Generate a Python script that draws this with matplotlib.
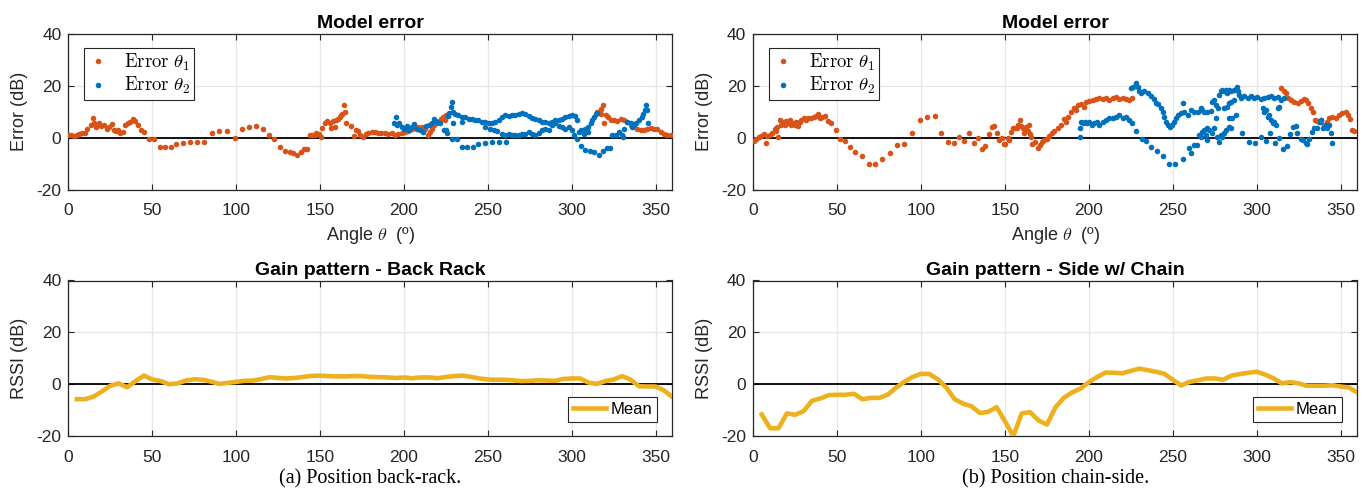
import matplotlib
matplotlib.use("Agg")
import matplotlib.pyplot as plt
import numpy as np

# ---------------- data ----------------
# (a) back-rack, model error theta1 (angle, error)
a_t1_ang = [0, 1.4, 3.4, 4.9, 6.3, 8.3, 9.7, 11.3, 13.3, 14.9, 15.3, 16.7, 18.3, 19.7, 21.3, 22.9, 24.3, 25.7, 26.9, 28.3,
            29.7, 30.9, 32.3, 33.7, 35.3, 36.9, 38.3, 39.7, 41.3, 43.3, 45.3, 48.3, 50.9, 54.3, 57.3, 60.9, 64.2, 68.2,
            72.4, 76.6, 80.8, 85.8, 89.9, 94.6, 99.0, 103.6, 107.8, 112.0, 115.9, 119.3, 122.6, 126.0, 128.9, 131.9,
            133.9, 136.2, 138.5, 140.4, 142.2, 143.8, 145.2, 146.8, 147.7, 149.2, 150.4, 151.4, 152.8, 154.4, 155.7,
            156.8, 157.7, 158.7, 159.7, 160.7, 161.7, 162.7, 163.3, 164.1, 164.7, 165.3, 168.7, 170.1, 171.6, 172.6,
            174.0, 175.7, 177.1, 178.7, 180.7, 182.6, 184.7, 186.6, 188.6, 190.6, 192.6, 194.6, 196.6, 198.6, 200.6,
            202.6, 204.6, 206.6, 208.6, 210.6, 212.5, 214.5, 215.5, 216.5, 218.1, 219.5, 220.9, 222.1, 223.5, 224.5,
            225.3, 315.2, 317.2, 318.6, 317.2, 319.2, 320.2, 321.8, 323.2, 325.2, 327.2, 329.2, 331.1, 333.1, 335.1,
            337.1, 339.1, 341.1, 343.1, 345.1, 347.1, 349.1, 351.1, 353.0, 355.0, 357.0, 359.0]
a_t1_err = [1.1, 0.9, 0.6, 0.9, 1.5, 1.8, 1.9, 3.2, 4.7, 7.6, 5.4, 4.1, 5.4, 4.3, 4.7, 3.2, 4.1, 5.1, 2.8, 2.5,
            2.8, 1.8, 2.2, 4.7, 5.4, 6.0, 7.0, 6.4, 4.7, 2.8, 2.2, -0.4, -0.4, -3.6, -3.6, -3.6, -2.5, -2.3,
            -1.9, -1.9, -1.9, 1.9, 2.5, 2.5, -0.1, 3.2, 4.1, 4.5, 3.3, 1.1, -0.4, -3.6, -5.2, -5.6,
            -5.9, -6.9, -5.4, -4.3, -4.5, 0.9, 0.8, 0.9, 1.8, 1.5, 0.3, 3.7, 5.4, 6.4, 5.4,
            3.8, 6.2, 4.1, 6.6, 7.0, 7.9, 8.5, 9.2, 12.6, 9.8, 5.4, 4.5, 0.6, 2.8, 2.4,
            0.9, 0.3, 1.3, 1.8, 2.0, 2.2, 1.9, 1.8, 1.8, 1.5, 1.8, 0.9, 1.5, 1.9, 2.2,
            2.5, 3.1, 3.7, 4.1, 4.1, 3.4, 0.9, 2.2, 3.4, 4.7, 5.6, 6.4, 7.3, 7.9, 6.9,
            8.5, 9.8, 11.1, 12.4, 9.2, 5.6, 8.5, 7.9, 6.6, 6.9, 6.4, 7.3, 6.6, 6.0, 4.7,
            4.1, 3.4, 2.8, 2.8, 3.4, 3.7, 3.4, 3.1, 2.2, 1.5, 0.9, 0.9]

# (a) back-rack, model error theta2
a_t2_ang = [194.2, 195.0, 195.6, 197.0, 198.6, 200.2, 201.6, 203.2, 204.6, 206.0, 207.6, 209.6, 211.6, 213.1, 214.9,
            216.5, 218.1, 219.5, 221.5, 223.9, 224.9, 225.5, 226.1, 226.9, 227.9, 228.9, 229.5, 228.9, 231.5, 229.5,
            230.5, 232.5, 234.5, 234.5, 236.5, 238.5, 240.5, 242.5, 244.4, 246.4, 248.4, 250.4, 252.4, 254.4, 256.4,
            258.4, 260.4, 262.4, 264.4, 266.4, 268.4, 270.4, 272.3, 274.3, 276.3, 278.3, 280.3, 282.3, 284.3, 286.3,
            288.3, 290.2, 292.2, 294.2, 296.2, 298.2, 300.2, 302.2, 303.2,
            234.5, 237.5, 240.9, 244.4, 248.4, 252.4, 256.4, 260.8,
            248.4, 251.4, 253.4, 255.4, 258.4, 260.4, 262.4, 264.4, 266.4, 268.4, 270.4, 272.3, 274.3, 276.3, 278.3,
            280.3, 282.3, 284.3, 286.3, 288.3, 290.2, 292.2, 294.2, 296.2, 298.2, 300.2, 301.2, 303.2, 304.2, 305.8,
            307.2, 308.2, 309.4, 309.8, 311.2, 312.2, 313.2, 314.2, 315.2,
            305.8, 308.2, 310.6, 313.2, 316.2, 318.5, 321.2, 322.7,
            324.1, 326.1, 328.1, 329.7, 330.5, 331.1, 333.1, 335.1, 336.1, 337.1, 338.5, 340.1, 341.7, 342.7, 343.7,
            344.5, 345.1, 345.7]
a_t2_err = [5.6, 7.9, 4.7, 5.4, 4.1, 3.4, 4.3, 2.8, 4.1, 5.1, 3.4, 2.8, 2.2, 4.3, 4.7,
            5.4, 7.0, 6.0, 5.4, 2.8, 2.8, 1.9, 8.2, 9.6, 11.7, 13.6, 9.8, -0.4, -0.4, 5.7,
            9.2, 8.5, 7.9, 6.0, 7.9, 7.3, 7.3, 6.6, 6.6, 6.0, 6.0, 5.4, 5.6, 6.0, 6.6,
            7.9, 8.5, 8.2, 8.5, 8.5, 9.2, 9.4, 9.2, 8.2, 7.6, 7.3, 6.9, 6.0, 6.0, 5.6,
            6.0, 6.6, 6.9, 7.3, 7.9, 8.2, 8.5, 8.2, 6.9,
            -3.6, -3.6, -3.6, -2.5, -2.3, -1.9, -1.9, -1.9,
            4.1, 3.4, 2.8, 2.5, 1.5, 0.9, 1.5, 0.9, 0.9, 1.1, 1.5, 1.5, 2.2, 1.5, 0.9,
            1.8, 2.8, 3.4, 2.8, 4.7, 5.4, 4.3, 4.1, 3.4, 4.1, 2.8, 0.9, -0.4, 2.2, 2.8,
            1.5, 3.4, 2.2, 4.1, 5.4, 6.6, 7.9, 9.2, 9.6,
            -3.3, -4.8, -5.2, -5.5, -6.8, -5.2, -4.2, -4.2,
            0.9, 0.9, 2.2, 0.9, 0.3, 3.4, 6.0, 5.6, 4.1, 4.7, 5.6, 6.6, 7.9, 9.2, 10.4,
            12.4, 10.7, 5.4]

# (b) chain-side, model error theta1
b_t1_ang = [0.4, 1.8, 3.2, 4.8, 6.2, 7.4, 8.4, 9.7, 11.1, 12.7, 13.7, 14.3, 14.7, 15.7, 16.7, 17.7, 18.7, 19.7, 20.7,
            21.6, 22.6, 23.6, 24.6, 25.6, 26.6, 27.6, 28.6, 30.0, 31.6, 32.9, 34.5, 35.9, 37.5, 38.5, 39.5, 40.9, 42.5,
            44.5, 46.5, 49.0, 51.8, 54.8, 57.8, 60.9, 64.7, 68.7, 72.6, 76.8, 81.2, 85.5, 90.0, 94.7, 99.4, 103.6,
            108.0, 111.9, 115.9, 119.4, 122.8, 125.8, 128.8, 131.4, 133.7, 136.1, 138.3, 140.3, 142.1, 143.7, 145.3,
            146.7, 148.0, 149.2, 150.2, 151.6, 152.6, 153.6, 154.6, 156.0, 157.2, 157.9, 159.1, 159.5, 160.5, 161.1,
            161.9, 162.7, 163.5, 164.5, 164.9, 165.5, 165.9, 167.9, 169.4, 171.1, 172.1, 173.4, 175.0, 176.4, 177.8,
            179.4, 181.4, 183.3, 185.3, 186.3, 187.7, 189.3, 190.9, 192.3, 193.7, 195.2, 197.2, 198.2, 200.2, 202.2,
            204.2, 206.2, 208.2, 210.1, 212.1, 214.1, 216.1, 218.1, 220.1, 222.1, 224.0, 226.0,
            314.5, 316.1, 317.5, 318.9, 320.5, 322.5, 324.5, 326.5, 328.1, 329.5, 330.9, 332.3, 333.3, 334.7, 335.8,
            337.2, 338.6, 340.1, 341.7, 343.1, 345.1, 347.1, 349.1, 351.1, 353.0, 354.4, 355.6, 357.0, 358.0]
b_t1_err = [-1.3, -0.4, 0.3, 0.6, 1.2, -2.1, 0.5, 0.9, 1.6, 3.2, 2.5, 4.1, 0.3, 6.7, 5.0, 6.1, 4.8, 6.5, 5.4,
            6.7, 4.8, 5.7, 5.0, 6.1, 4.4, 6.1, 6.7, 7.4, 6.7, 7.6, 7.4, 8.0, 8.4, 8.9, 7.4, 8.0, 8.4,
            6.3, 5.4, 2.8, -0.4, -1.3, -3.6, -5.6, -7.2, -10.1, -10.1, -8.1, -5.8, -3.0, -2.4, 1.6, 6.7, 7.8,
            8.4, 1.9, -1.7, -2.3, 0.3, -1.4, 1.6, -2.1, -0.1, -4.3, -3.2, 1.2, 3.9, 4.5, 1.6,
            -0.8, -0.1, -2.6, -2.6, 0.0, -1.0, 2.2, 3.7, 3.5, 3.7, 5.0, 6.7, 4.5, 3.5, 1.8,
            3.2, 4.1, 2.5, 4.8, 1.2, 0.3, -2.6, -1.7, -3.9, -3.0, -1.9, -1.0, -0.4, 0.6, 1.6,
            2.5, 3.5, 4.8, 7.0, 6.1, 8.0, 9.9, 11.2, 10.6, 12.5, 12.8, 11.9, 13.8, 14.1, 14.5,
            14.9, 15.1, 14.9, 15.1, 14.5, 15.1, 15.4, 14.9, 15.1, 14.9, 14.5, 15.1,
            19.0, 18.0, 17.1, 15.1, 14.5, 13.8, 13.2, 14.1, 14.9, 14.5, 13.2, 11.2, 9.9, 6.7, 6.3,
            6.1, 6.7, 5.0, 6.1, 7.4, 8.0, 7.4, 8.7, 9.3, 9.9, 8.7, 7.1, 2.8, 2.5]

# (b) chain-side, model error theta2
b_t2_ang = [225.0, 226.6, 228.0, 229.4, 230.0, 231.0, 233.0, 235.0, 237.0, 238.6, 240.0, 241.3, 242.9, 243.9, 244.9,
            245.9, 246.9, 248.5, 249.8, 250.8, 251.8, 253.2, 254.9, 256.3, 256.9, 258.8, 260.8, 262.8, 264.8, 266.7,
            267.4, 268.7, 270.7, 272.7, 273.6, 274.6, 275.6, 277.0, 277.6, 278.6, 279.6, 280.6, 281.6, 282.6, 283.6,
            284.6, 286.6, 288.0, 288.6, 289.6, 290.6, 292.6, 294.6, 296.6, 298.6, 300.5, 302.5, 304.5, 306.5, 308.5,
            310.5, 312.5, 314.5, 316.5,
            280.6, 282.2, 283.6, 284.9, 286.5, 283.6, 285.6, 287.5, 275.6,
            303.5, 304.5, 305.5, 306.5, 307.5, 308.5, 309.5, 310.5, 311.5, 312.5, 313.5,
            194.5, 194.5, 195.1, 196.5, 197.9, 199.1, 200.2, 201.8, 203.2, 204.8, 206.2, 208.2, 210.1, 212.1, 214.1,
            216.1, 218.1, 220.1, 222.1, 224.0, 226.0, 228.0, 231.4, 234.0, 237.3, 240.5, 243.9, 247.5, 251.5, 256.2,
            259.8, 261.1, 262.7, 264.7, 265.7, 266.7, 267.7, 268.7, 269.7, 270.3, 270.7, 271.7, 273.6, 274.6, 276.6,
            277.6, 278.6, 279.6, 280.6, 281.6, 283.6, 284.6,
            291.5, 295.5, 298.8, 302.5, 305.5, 308.1, 310.7, 313.3, 315.9, 317.9, 319.9, 321.9, 323.3, 324.3, 326.3,
            327.9, 329.3, 330.2, 331.2, 333.2, 334.2, 336.2, 337.8, 338.6, 339.8, 341.1, 342.1, 343.1, 344.1, 345.1]
b_t2_err = [19.0, 19.6, 20.9, 19.6, 18.0, 17.1, 17.7, 17.1, 15.8, 14.9, 13.2, 12.8, 11.2, 9.9, 8.0,
            6.1, 4.8, 4.1, 5.0, 6.1, 7.4, 8.7, 9.3, 13.2, 9.9, 8.7, 10.6, 9.7, 9.9, 11.2,
            10.6, 9.9, 9.7, 10.2, 13.8, 14.5, 12.5, 11.2, 16.4, 17.7, 18.3, 17.7, 18.3, 17.1, 18.3,
            17.9, 18.3, 19.6, 17.7, 16.4, 15.1, 15.8, 15.1, 15.8, 15.1, 15.4, 14.9, 15.1, 15.4, 15.8,
            15.1, 15.4, 14.5, 15.1,
            11.2, 11.9, 13.2, 13.8, 14.5, 7.6, 7.4, 8.7, 7.4,
            11.2, 9.9, 10.6, 8.0, 8.7, 6.7, 5.4, 6.1, 4.8, 11.2, 11.9,
            0.3, 3.5, 6.1, 5.4, 6.1, 5.4, 6.1, 4.8, 5.4, 6.1, 4.8, 6.1, 6.7, 7.4, 7.4,
            8.0, 8.7, 7.4, 8.0, 6.7, 5.4, 2.5, -0.4, -1.4, -3.6, -5.3, -7.2, -10.1, -10.1, -8.1,
            -4.0, -5.8, -3.0, -3.0, 0.9, 0.3, 2.2, 2.8, 0.9, 3.7, -1.0, 2.8, 1.6, 3.5, 0.3,
            -1.7, 0.9, 0.3, 1.6, 2.8, 4.1, 3.5,
            1.9, -1.7, -2.3, 0.3, -1.4, 1.6, -2.1, -0.1, -4.3, -3.2, 1.2, 4.1, 4.5, 1.6, -0.4,
            -1.0, -2.3, -2.6, -0.4, 2.2, 3.5, 3.7, 6.1, 6.7, 3.5, 4.8, 3.5, 4.8, 1.6, -2.3]

# Gain patterns (mean RSSI every 5 degrees)
gain_ang = list(range(5, 361, 5))
gain_a = [-5.8, -5.8, -4.8, -2.8, -0.6, 0.3, -1.2, 1.2, 3.3, 1.8, 1.2, 0.0, 0.3, 1.4, 1.9, 1.7, 1.0, 0.1,
          0.5, 0.9, 1.3, 1.4, 2.0, 2.7, 2.4, 2.2, 2.4, 2.8, 3.2, 3.3, 3.1, 3.0, 3.0, 3.1, 3.1, 2.8,
          2.7, 2.6, 2.4, 2.6, 2.3, 2.6, 2.6, 2.3, 2.8, 3.1, 3.3, 2.8, 2.2, 1.8, 1.7, 1.7, 1.5, 1.2,
          1.3, 1.5, 1.4, 1.3, 2.0, 2.2, 2.2, 0.6, 0.1, 1.2, 1.8, 3.1, 1.8, -0.8, -0.9, -0.9, -2.4, -5.0]
gain_b = [-11.7, -17.0, -17.0, -11.3, -11.8, -10.4, -6.4, -5.5, -4.2, -4.1, -4.1, -3.7, -5.8, -5.3, -5.3,
          -4.1, -1.4, 0.9, 2.8, 4.0, 3.9, 1.9, -1.3, -5.8, -7.5, -8.5, -11.1, -10.7, -8.9, -14.3, -20.0,
          -11.3, -10.8, -14.0, -15.6, -9.0, -5.3, -3.2, -1.7, 0.8, 2.8, 4.5, 4.4, 4.2, 5.1, 6.0, 5.4,
          4.8, 4.0, 1.7, -0.5, 0.9, 1.5, 2.2, 2.2, 1.7, 3.3, 3.9, 4.4, 4.8, 3.7, 2.3, 0.3, 0.8, 0.3,
          -0.6, -0.6, -0.6, -0.4, -0.9, -1.3, -3.2]

titles_top = ["Model error", "Model error"]
titles_bot = ["Gain pattern - Back Rack", "Gain pattern - Side w/ Chain"]
captions = ["(a) Position back-rack.", "(b) Position chain-side."]
xticks = [0, 50, 100, 150, 200, 250, 300, 350]
yticks = [-20, 0, 20, 40]

# ---------------- style ----------------
ORANGE = "#D95319"
BLUE = "#0072BD"
YELLOW = "#EDB120"
AXC = "#262626"
SANS = ["Liberation Sans", "DejaVu Sans"]
plt.rcParams["font.family"] = SANS
plt.rcParams["mathtext.fontset"] = "cm"
plt.rcParams["axes.unicode_minus"] = False

W, H = 1369, 494
fig = plt.figure(figsize=(W / 100, H / 100), dpi=100)

lefts = [68.4, 753.3]
width = 604.0
top_y = (33.5, 189.5)
bot_y = (280.5, 436)


def make_ax(x0, ys):
    return fig.add_axes([x0 / W, 1 - ys[1] / H, width / W, (ys[1] - ys[0]) / H])


def style(ax):
    ax.set_xlim(0, 360)
    ax.set_ylim(-20, 40)
    ax.set_xticks(xticks)
    ax.set_yticks(yticks)
    ax.grid(True, color="#e6e6e6", linewidth=0.9)
    ax.set_axisbelow(True)
    ax.tick_params(direction="in", top=True, right=True, length=4, width=0.8,
                   colors=AXC, labelsize=12.5)
    ax.tick_params(axis="x", pad=10)
    ax.tick_params(axis="y", pad=5)
    for s in ax.spines.values():
        s.set_color(AXC)
        s.set_linewidth(0.9)
    ax.axhline(0, color="black", linewidth=1.3, zorder=1.5)


tops = [(a_t1_ang, a_t1_err, a_t2_ang, a_t2_err), (b_t1_ang, b_t1_err, b_t2_ang, b_t2_err)]
gains = [gain_a, gain_b]

for i in range(2):
    ax = make_ax(lefts[i], top_y)
    style(ax)
    t1a, t1e, t2a, t2e = tops[i]
    ax.plot(t1a, t1e, "o", color=ORANGE, markersize=4.0, markeredgewidth=0,
            label=r"$\mathrm{Error}\ \theta_1$", zorder=3)
    ax.plot(t2a, t2e, "o", color=BLUE, markersize=4.0, markeredgewidth=0,
            label=r"$\mathrm{Error}\ \theta_2$", zorder=3)
    ax.set_title(titles_top[i], fontsize=14, fontweight="bold", color="black", pad=4)
    ax.set_ylabel("Error (dB)", fontsize=13, color=AXC, labelpad=6)
    ax.set_xlabel(r"Angle $\it{\theta}$  (º)", fontsize=13, color=AXC, labelpad=5)
    leg = ax.legend(loc="upper left", bbox_to_anchor=(0.026, 0.91), fontsize=13.5,
                    fancybox=False, framealpha=1, edgecolor="#262626",
                    handlelength=1.0, handletextpad=0.9, borderpad=0.22, labelspacing=0.12,
                    borderaxespad=0, markerscale=1.0)
    leg.get_frame().set_linewidth(0.8)

    axb = make_ax(lefts[i], bot_y)
    style(axb)
    axb.plot(gain_ang, gains[i], color=YELLOW, linewidth=3.3, label="Mean", zorder=3,
             solid_joinstyle="round")
    axb.set_title(titles_bot[i], fontsize=14, fontweight="bold", color="black", pad=4)
    axb.set_ylabel("RSSI (dB)", fontsize=13, color=AXC, labelpad=6)
    leg2 = axb.legend(loc="lower right", bbox_to_anchor=(0.975, 0.09), fontsize=12,
                      fancybox=False, framealpha=1, edgecolor="#262626",
                      handlelength=2.0, handletextpad=0.25, borderpad=0.3, borderaxespad=0)
    leg2.get_frame().set_linewidth(0.8)

    fig.text((lefts[i] + width / 2) / W, 1 - 479 / H, captions[i], ha="center", va="center",
             fontsize=14.5, family=["Liberation Serif", "DejaVu Serif"])

fig.savefig("out.png", dpi=100)
